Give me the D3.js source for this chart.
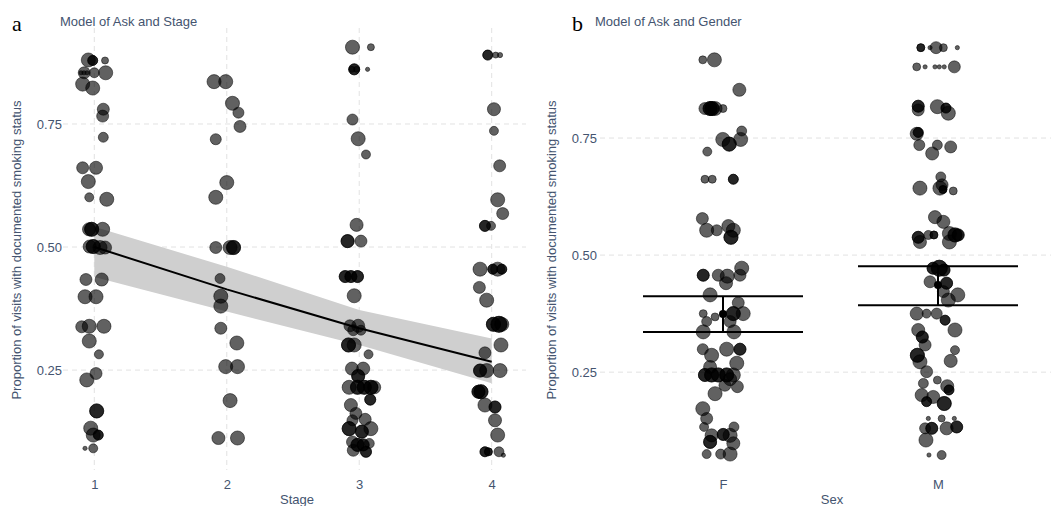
<!DOCTYPE html>
<html>
<head>
<meta charset="utf-8">
<script src="https://cdn.jsdelivr.net/npm/d3@7"></script>
<style>
  body { margin: 0; background: #fff; }
  text { font-family: "Liberation Sans", Arial, sans-serif; }
</style>
</head>
<body>
<svg id="chart" width="1051" height="506"></svg>
<script>
// ---- data ----
const yTicks = [0.25, 0.5, 0.75];
const stages = [1, 2, 3, 4];
const sexCats = ["F", "M"];

// [jittered stage, proportion asked, visits]
const stage1 = [
  [0.955,0.880,44],[0.988,0.879,22],[0.988,0.879,22],[1.081,0.879,11],
  [0.900,0.854,4],[0.922,0.854,4],[0.945,0.854,4],[0.924,0.854,32],[1.000,0.854,22],[1.086,0.854,44],
  [0.912,0.831,44],[0.988,0.823,44],[1.068,0.780,32],[1.063,0.766,32],[1.068,0.723,22],
  [0.912,0.661,32],[1.013,0.661,38],[0.955,0.633,44],[0.962,0.601,18],[1.094,0.597,44],
  [0.980,0.536,44],[0.980,0.536,44],[0.960,0.536,38],[1.063,0.536,44],
  [0.992,0.501,44],[0.992,0.501,44],[0.965,0.501,38],[1.043,0.499,44],[1.081,0.499,38],
  [0.937,0.434,32],[1.056,0.434,38],[0.930,0.399,44],[1.013,0.399,44],
  [0.905,0.338,32],[0.962,0.339,44],[1.073,0.339,44],[0.962,0.309,44],[1.035,0.282,18],
  [0.943,0.230,44],[1.013,0.243,32],[1.018,0.167,44],[1.018,0.167,44],
  [0.973,0.132,44],[0.992,0.118,44],[1.030,0.118,22],[1.030,0.118,22],
  [0.930,0.091,4],[0.992,0.091,18]
];
const stage2 = [
  [1.904,0.836,44],[1.992,0.836,44],[2.043,0.792,44],[2.088,0.773,27],[2.100,0.745,32],
  [1.917,0.719,27],[2.000,0.631,44],[1.917,0.601,44],
  [1.917,0.499,32],[2.025,0.499,44],[2.051,0.499,44],[2.051,0.499,44],
  [1.949,0.436,22],[1.955,0.400,44],[1.955,0.380,44],[1.955,0.335,32],[2.076,0.305,44],
  [1.992,0.257,44],[2.081,0.257,44],[2.025,0.188,44],[1.937,0.112,38],[2.081,0.112,44]
];
const stage3 = [
  [2.949,0.906,44],[3.088,0.906,11],[2.962,0.861,27],[2.962,0.861,27],[2.980,0.861,8],
  [2.945,0.861,8],[3.063,0.861,4],[2.949,0.759,27],[2.992,0.720,44],[3.051,0.688,18],
  [2.980,0.545,38],[2.912,0.512,38],[2.912,0.512,38],[3.013,0.512,32],
  [2.894,0.440,32],[2.894,0.440,32],[2.937,0.440,32],[2.937,0.440,32],[2.987,0.440,32],[2.987,0.440,32],
  [2.962,0.401,44],[2.930,0.340,32],[2.992,0.340,38],[2.955,0.331,27],[3.013,0.331,22],
  [2.919,0.301,44],[2.919,0.301,44],[2.962,0.301,44],[3.070,0.282,18],
  [2.945,0.253,38],[3.030,0.253,38],[2.992,0.238,38],[2.992,0.238,38],
  [2.924,0.215,44],[2.987,0.215,44],[2.987,0.215,44],[3.038,0.215,44],[3.038,0.215,44],
  [3.088,0.215,44],[3.088,0.215,44],[3.113,0.215,38],[3.083,0.190,27],[3.083,0.190,27],
  [2.937,0.179,38],[2.975,0.162,32],[2.949,0.148,27],[3.045,0.150,32],
  [2.924,0.131,44],[2.924,0.131,44],[3.088,0.131,44],[3.020,0.125,38],[3.020,0.125,38],
  [2.949,0.104,32],[2.987,0.098,38],[2.987,0.098,38],[3.030,0.098,32],[3.030,0.098,32],
  [3.076,0.101,22],[2.955,0.087,32],[3.051,0.084,27],[3.051,0.084,27]
];
const stage4 = [
  [3.970,0.890,22],[3.970,0.890,22],[4.030,0.890,8],[4.063,0.890,6],
  [4.017,0.780,38],[4.017,0.736,18],[4.060,0.665,32],[4.045,0.596,44],[4.083,0.568,32],
  [3.949,0.543,27],[3.949,0.543,27],[3.995,0.543,18],
  [3.912,0.455,44],[4.008,0.455,22],[4.008,0.455,22],[4.045,0.455,44],[4.076,0.455,22],[4.076,0.455,22],
  [3.907,0.418,32],[3.962,0.392,44],
  [4.013,0.343,44],[4.013,0.343,44],[4.055,0.343,57],[4.055,0.343,57],[4.076,0.343,44],
  [4.070,0.301,44],[3.949,0.285,32],
  [3.912,0.249,38],[3.912,0.249,38],[3.962,0.249,44],[4.063,0.249,44],
  [3.919,0.206,44],[3.919,0.206,44],[3.900,0.206,38],[3.900,0.206,38],
  [3.949,0.179,44],[4.025,0.175,32],[4.025,0.175,32],[4.025,0.148,38],[4.045,0.118,44],
  [3.949,0.084,22],[3.949,0.084,22],[3.975,0.084,14],[3.975,0.084,14],[4.055,0.084,22],[4.088,0.077,4]
];

// model fit for stage
const fitProp = [0.500, 0.414, 0.335, 0.267];
const fitLow  = [0.439, 0.369, 0.301, 0.223];
const fitHigh = [0.541, 0.460, 0.372, 0.314];

// [jittered sex index, proportion asked, visits]
const female = [
  [-0.094,0.917,14],[-0.040,0.917,44],[0.076,0.853,38],
  [-0.084,0.813,32],[-0.060,0.813,44],[-0.060,0.813,44],[-0.037,0.813,44],[-0.051,0.813,44],[-0.051,0.813,44],[0.000,0.813,14],
  [-0.001,0.747,44],[0.029,0.737,44],[0.029,0.737,44],[0.082,0.747,44],[0.087,0.765,22],[-0.073,0.721,18],
  [-0.084,0.662,14],[-0.050,0.662,14],[0.048,0.662,22],[0.048,0.662,22],
  [-0.096,0.578,32],[-0.076,0.553,44],[-0.029,0.553,27],[0.025,0.562,38],[0.048,0.553,44],[0.037,0.538,44],[0.037,0.538,44],
  [-0.092,0.457,32],[-0.092,0.457,32],[-0.022,0.457,32],[0.020,0.455,44],[0.087,0.472,44],[0.079,0.457,32],
  [0.014,0.440,38],[-0.060,0.415,44],[0.071,0.398,32],
  [-0.092,0.375,14],[-0.037,0.368,14],[0.048,0.375,44],[0.048,0.375,44],[0.094,0.375,44],
  [-0.076,0.358,22],[0.033,0.358,32],[-0.092,0.336,44],[0.051,0.336,44],
  [-0.094,0.299,27],[-0.053,0.286,44],[0.017,0.299,44],[0.079,0.299,32],[0.079,0.299,32],
  [0.064,0.269,44],[-0.060,0.261,38],
  [-0.084,0.244,38],[-0.084,0.244,38],[-0.053,0.244,44],[-0.053,0.244,44],[-0.022,0.244,44],[-0.022,0.244,44],
  [0.017,0.244,44],[0.017,0.244,44],[0.048,0.244,44],[0.033,0.235,38],
  [-0.037,0.204,44],[0.009,0.222,32],[0.067,0.219,32],
  [-0.094,0.172,44],[-0.076,0.151,32],[-0.088,0.133,18],[0.051,0.133,22],
  [-0.053,0.115,38],[0.001,0.117,32],[0.001,0.117,32],[0.033,0.115,44],
  [-0.060,0.101,38],[-0.060,0.101,38],[0.048,0.098,38],
  [-0.076,0.075,18],[-0.011,0.075,22],[0.033,0.075,44]
];
const male = [
  [0.920,0.943,14],[0.920,0.943,14],[0.963,0.943,4],[0.991,0.943,32],[1.025,0.943,14],[1.090,0.943,4],
  [0.901,0.902,14],[0.940,0.902,4],[0.986,0.902,4],[1.006,0.902,4],[1.029,0.902,4],[1.076,0.902,32],
  [0.908,0.818,32],[0.908,0.818,32],[0.908,0.810,32],[0.997,0.817,44],[1.037,0.814,22],[1.037,0.814,22],[1.048,0.803,44],
  [0.901,0.759,38],[0.908,0.762,22],[0.908,0.762,22],[0.913,0.735,27],[0.997,0.735,22],[1.059,0.731,32],[0.973,0.717,38],
  [1.013,0.667,22],[0.916,0.643,44],[1.009,0.643,44],[1.019,0.650,32],[1.023,0.640,14],[1.023,0.640,14],[1.071,0.637,14],
  [0.986,0.581,38],[1.025,0.571,38],
  [0.908,0.538,32],[0.908,0.538,32],[0.916,0.528,38],[0.955,0.543,18],[0.981,0.543,14],[0.981,0.543,14],
  [1.053,0.546,44],[1.079,0.543,44],[1.079,0.543,44],[1.094,0.543,32],[1.094,0.543,32],[1.053,0.528,44],
  [1.006,0.472,57],[1.006,0.472,57],[0.977,0.472,32],[0.977,0.472,32],[1.028,0.468,32],[1.028,0.468,32],
  [0.963,0.443,32],[1.040,0.440,32],[1.040,0.440,32],[1.025,0.422,32],[1.092,0.415,44],[1.048,0.404,44],
  [0.901,0.375,38],[0.947,0.375,18],[0.994,0.375,27],[1.033,0.361,22],[1.033,0.361,22],
  [1.079,0.340,44],[0.908,0.340,38],[0.927,0.325,32],[0.927,0.325,32],[0.940,0.308,32],
  [0.904,0.286,44],[0.904,0.286,44],[1.079,0.297,18],[0.916,0.272,44],[1.059,0.274,38],
  [0.947,0.251,32],[0.997,0.233,14],[0.932,0.226,22],[1.043,0.220,38],[1.051,0.212,22],[1.051,0.212,22],
  [0.924,0.201,38],[0.978,0.197,38],[0.947,0.187,22],[0.947,0.187,22],[1.029,0.183,44],[1.029,0.183,44],
  [0.955,0.151,4],[1.017,0.151,11],[1.076,0.151,4],
  [0.940,0.130,27],[0.971,0.130,32],[0.971,0.130,32],[1.040,0.130,38],[1.087,0.133,32],[1.087,0.133,32],
  [0.944,0.105,44],[0.958,0.073,4],[1.017,0.073,18]
];

// model estimate for sex
const sexMean = [0.374, 0.436];
const sexLow  = [0.336, 0.393];
const sexHigh = [0.412, 0.476];

// ---- drawing ----
const svg = d3.select("#chart");
const textCol = "#44546f";
const gridCol = "#e2e2e2";
const fontSize = "13px";
const rScale = d3.scaleSqrt().domain([0, 50]).range([0, 7.5]);

function drawDots(g, data, x, y) {
  g.append("g").selectAll("circle")
    .data(data)
    .enter().append("circle")
    .attr("cx", d => x(d[0]))
    .attr("cy", d => y(d[1]))
    .attr("r", d => rScale(d[2]))
    .attr("fill", "#000")
    .attr("fill-opacity", 0.62)
    .attr("stroke", "#000")
    .attr("stroke-opacity", 0.5)
    .attr("stroke-width", 1);
}

function styleAxis(sel) {
  sel.select(".domain").remove();
  sel.selectAll("text").attr("fill", textCol).style("font-size", fontSize);
}

// PANEL A
const xA = d3.scaleLinear().domain([1, 4]).range([94.3, 491.7]);
const yA = d3.scaleLinear().domain([0.047, 0.945]).range([470, 28]);
const gA = svg.append("g");

gA.selectAll(".hgrid").data(yTicks).enter().append("line")
  .attr("x1", 63).attr("x2", 526)
  .attr("y1", d => yA(d)).attr("y2", d => yA(d))
  .attr("stroke", gridCol).attr("stroke-dasharray", "5,4");
gA.selectAll(".vgrid").data(stages).enter().append("line")
  .attr("x1", d => xA(d)).attr("x2", d => xA(d))
  .attr("y1", 28).attr("y2", 470)
  .attr("stroke", gridCol).attr("stroke-dasharray", "5,4");

const fitRows = stages.map((s, i) => ({ s: s, p: fitProp[i], lo: fitLow[i], hi: fitHigh[i] }));
gA.append("path")
  .datum(fitRows)
  .attr("d", d3.area().x(d => xA(d.s)).y0(d => yA(d.lo)).y1(d => yA(d.hi)))
  .attr("fill", "#cfcfcf");

[stage1, stage2, stage3, stage4].forEach(st => drawDots(gA, st, xA, yA));

gA.append("path")
  .datum(fitRows)
  .attr("d", d3.line().x(d => xA(d.s)).y(d => yA(d.p)))
  .attr("fill", "none").attr("stroke", "#000").attr("stroke-width", 2);

gA.append("g").attr("transform", "translate(63,0)")
  .call(d3.axisLeft(yA).tickValues(yTicks).tickFormat(d3.format(".2f")).tickSize(0).tickPadding(1))
  .call(styleAxis);
gA.append("g").attr("transform", "translate(0,480)")
  .call(d3.axisBottom(xA).tickValues(stages).tickFormat(d3.format("d")).tickSize(0).tickPadding(0))
  .call(styleAxis);

gA.append("text").attr("x", 297).attr("y", 504).attr("text-anchor", "middle")
  .attr("fill", textCol).style("font-size", fontSize).text("Stage");
gA.append("text").attr("transform", "translate(21,250) rotate(-90)").attr("text-anchor", "middle")
  .attr("fill", textCol).style("font-size", fontSize)
  .text("Proportion of visits with documented smoking status");
gA.append("text").attr("x", 60).attr("y", 26)
  .attr("fill", textCol).style("font-size", fontSize).text("Model of Ask and Stage");
gA.append("text").attr("x", 12).attr("y", 31)
  .style("font-family", "'Liberation Serif', 'Times New Roman', serif").style("font-size", "22px")
  .attr("fill", "#000").text("a");

// PANEL B
const xB = d3.scaleLinear().domain([0, 1]).range([723, 938]);
const yB = d3.scaleLinear().domain([0.041, 0.985]).range([470, 28]);
const gB = svg.append("g");

gB.selectAll(".hgrid").data(yTicks).enter().append("line")
  .attr("x1", 600).attr("x2", 1051)
  .attr("y1", d => yB(d)).attr("y2", d => yB(d))
  .attr("stroke", gridCol).attr("stroke-dasharray", "5,4");

[female, male].forEach(st => drawDots(gB, st, xB, yB));

const capHalf = 80;
const est = gB.append("g").selectAll("g")
  .data(sexCats.map((c, i) => ({ i: i, m: sexMean[i], lo: sexLow[i], hi: sexHigh[i] })))
  .enter().append("g");
est.append("line")
  .attr("x1", d => xB(d.i)).attr("x2", d => xB(d.i))
  .attr("y1", d => yB(d.lo)).attr("y2", d => yB(d.hi))
  .attr("stroke", "#000").attr("stroke-width", 2);
["lo", "hi"].forEach(k => {
  est.append("line")
    .attr("x1", d => xB(d.i) - capHalf).attr("x2", d => xB(d.i) + capHalf)
    .attr("y1", d => yB(d[k])).attr("y2", d => yB(d[k]))
    .attr("stroke", "#000").attr("stroke-width", 2);
});
est.append("circle")
  .attr("cx", d => xB(d.i)).attr("cy", d => yB(d.m)).attr("r", 4)
  .attr("fill", "#000");

gB.append("g").attr("transform", "translate(598,0)")
  .call(d3.axisLeft(yB).tickValues(yTicks).tickFormat(d3.format(".2f")).tickSize(0).tickPadding(1))
  .call(styleAxis);
gB.append("g").attr("transform", "translate(0,480)")
  .call(d3.axisBottom(xB).tickValues([0, 1]).tickFormat(i => sexCats[i]).tickSize(0).tickPadding(0))
  .call(styleAxis);

gB.append("text").attr("x", 832).attr("y", 504).attr("text-anchor", "middle")
  .attr("fill", textCol).style("font-size", fontSize).text("Sex");
gB.append("text").attr("transform", "translate(556,250) rotate(-90)").attr("text-anchor", "middle")
  .attr("fill", textCol).style("font-size", fontSize)
  .text("Proportion of visits with documented smoking status");
gB.append("text").attr("x", 595).attr("y", 26)
  .attr("fill", textCol).style("font-size", fontSize).text("Model of Ask and Gender");
gB.append("text").attr("x", 572).attr("y", 31)
  .style("font-family", "'Liberation Serif', 'Times New Roman', serif").style("font-size", "22px")
  .attr("fill", "#000").text("b");
</script>
</body>
</html>
